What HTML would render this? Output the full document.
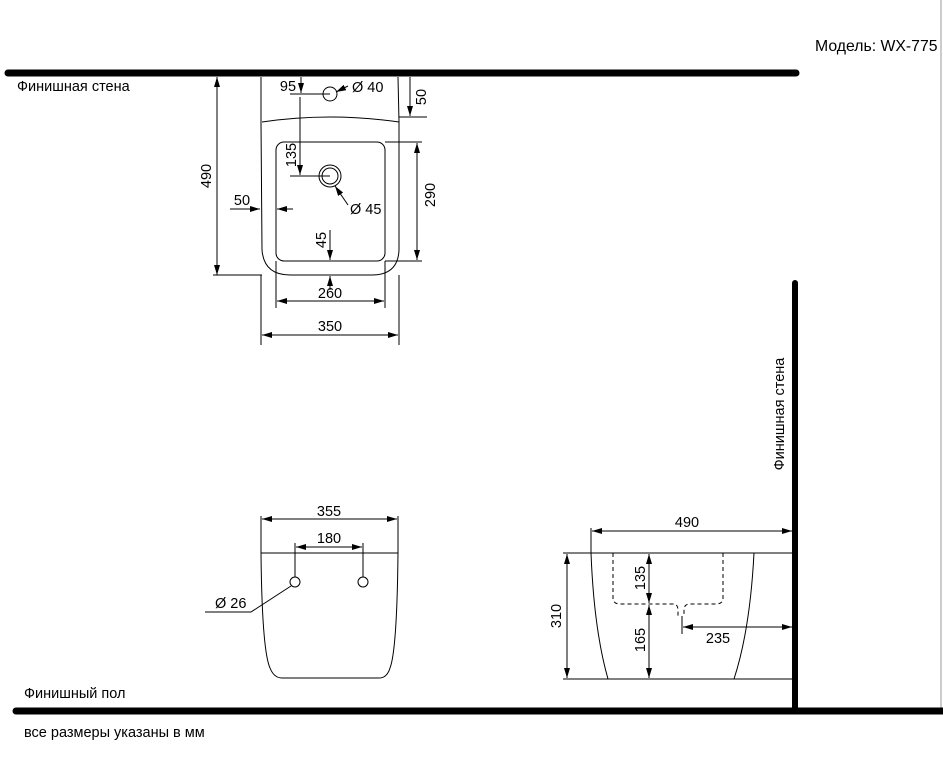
<!DOCTYPE html>
<html><head><meta charset="utf-8"><style>
html,body{margin:0;padding:0;background:#fff;}
svg{display:block;}
text{font-family:"Liberation Sans",sans-serif;font-size:14.5px;fill:#000;}
</style></head><body>
<svg width="943" height="777" viewBox="0 0 943 777" xmlns="http://www.w3.org/2000/svg">
<defs>
<marker id="a" viewBox="0 0 10 6" refX="10" refY="3" markerWidth="10" markerHeight="6" orient="auto-start-reverse" markerUnits="userSpaceOnUse"><path d="M0,0 L10,3 L0,6 z" fill="#000"/></marker>
</defs>
<line x1="941" y1="0" x2="941" y2="711" stroke="#999" stroke-width="1"/>
<line x1="8" y1="73" x2="796" y2="73" stroke="#000" stroke-width="7" stroke-linecap="round"/>
<line x1="795" y1="283" x2="795" y2="711" stroke="#000" stroke-width="6" stroke-linecap="round"/>
<line x1="16" y1="711" x2="943" y2="711" stroke="#000" stroke-width="7" stroke-linecap="round"/>
<text x="17" y="91">Финишная стена</text>
<text x="815" y="51" style="font-size:15.8px">Модель: WX-775</text>
<text x="24" y="698">Финишный пол</text>
<text x="24" y="737">все размеры указаны в мм</text>
<text transform="translate(784,414) rotate(-90)" text-anchor="middle">Финишная стена</text>

<g fill="none" stroke="#000" stroke-width="1">
<path d="M261,77 L261,122 L262,250 Q264,275 290,275 L372,275 Q398,275 399,250 L399,122 L398,77"/>
<path d="M262,122 Q330,112 399,122"/>
<rect x="276" y="142" width="109" height="119" rx="8"/>
<circle cx="330" cy="94" r="7"/>
<circle cx="330" cy="176" r="11"/>
<circle cx="330" cy="176" r="8"/>
<line x1="213" y1="275" x2="262" y2="275"/>
<line x1="217" y1="77" x2="217" y2="275" marker-start="url(#a)" marker-end="url(#a)"/>
<line x1="301" y1="77" x2="301" y2="93" marker-end="url(#a)"/>
<line x1="290" y1="94" x2="330" y2="94"/>
<line x1="348" y1="86" x2="336" y2="92" marker-end="url(#a)"/>
<line x1="410" y1="77" x2="410" y2="116" marker-end="url(#a)"/>
<line x1="399" y1="117" x2="427" y2="117"/>
<line x1="300" y1="97" x2="300" y2="175" marker-end="url(#a)"/>
<line x1="290" y1="176" x2="330" y2="176"/>
<line x1="348" y1="205" x2="335" y2="186" marker-end="url(#a)"/>
<line x1="230" y1="209" x2="260" y2="209" marker-end="url(#a)"/>
<line x1="293" y1="209" x2="277" y2="209" marker-end="url(#a)"/>
<line x1="385" y1="142" x2="422" y2="142"/>
<line x1="385" y1="261" x2="422" y2="261"/>
<line x1="417" y1="143" x2="417" y2="260" marker-start="url(#a)" marker-end="url(#a)"/>
<line x1="330" y1="230" x2="330" y2="260" marker-end="url(#a)"/>
<line x1="330" y1="290" x2="330" y2="276" marker-end="url(#a)"/>
<line x1="276" y1="261" x2="276" y2="308"/>
<line x1="385" y1="261" x2="385" y2="308"/>
<line x1="277" y1="301" x2="384" y2="301" marker-start="url(#a)" marker-end="url(#a)"/>
<line x1="261" y1="275" x2="261" y2="345"/>
<line x1="399" y1="275" x2="399" y2="345"/>
<line x1="262" y1="335" x2="398" y2="335" marker-start="url(#a)" marker-end="url(#a)"/>

<line x1="261" y1="516" x2="261" y2="553"/>
<line x1="398" y1="516" x2="398" y2="553"/>
<line x1="262" y1="519" x2="397" y2="519" marker-start="url(#a)" marker-end="url(#a)"/>
<line x1="261" y1="553" x2="398" y2="553"/>
<line x1="295" y1="543" x2="295" y2="577"/>
<line x1="363" y1="543" x2="363" y2="577"/>
<line x1="296" y1="547" x2="362" y2="547" marker-start="url(#a)" marker-end="url(#a)"/>
<circle cx="295" cy="582" r="5"/>
<circle cx="363" cy="582" r="5"/>
<path d="M291,586 L251,612 L205,612"/>
<path d="M261,553 Q262,650 270,668 Q274,678 282,678 L379,678 Q387,678 390,668 Q397,650 398,553"/>

<line x1="563" y1="553" x2="793" y2="553"/>
<line x1="563" y1="679" x2="793" y2="679"/>
<line x1="591" y1="528" x2="591" y2="553"/>
<line x1="592" y1="531" x2="792" y2="531" marker-start="url(#a)" marker-end="url(#a)"/>
<path d="M591,553 Q594,630 608,679"/>
<path d="M754,553 Q750,630 734,679"/>
<path d="M613,553 L613,598 Q613,604 620,604 L673,604 Q678,604 678,610 L678,616 M723,553 L723,598 Q723,604 716,604 L690,604 Q684,604 684,610 L684,616" stroke-dasharray="4,3"/>
<line x1="567" y1="554" x2="567" y2="678" marker-start="url(#a)" marker-end="url(#a)"/>
<line x1="649" y1="554" x2="649" y2="603" marker-start="url(#a)" marker-end="url(#a)"/>
<line x1="649" y1="605" x2="649" y2="678" marker-start="url(#a)" marker-end="url(#a)"/>
<line x1="682" y1="616" x2="682" y2="634"/>
<line x1="683" y1="627" x2="792" y2="627" marker-start="url(#a)" marker-end="url(#a)"/>
</g>

<g style="font-size:15px">
<text x="207" y="176" transform="rotate(-90 207 176)" text-anchor="middle" dominant-baseline="middle">490</text>
<text x="288" y="91" text-anchor="middle">95</text>
<text x="352" y="92">Ø 40</text>
<text x="422" y="97" transform="rotate(-90 422 97)" text-anchor="middle" dominant-baseline="middle">50</text>
<text x="292" y="155" transform="rotate(-90 292 155)" text-anchor="middle" dominant-baseline="middle">135</text>
<text x="350" y="214">Ø 45</text>
<text x="242" y="205" text-anchor="middle">50</text>
<text x="431" y="195" transform="rotate(-90 431 195)" text-anchor="middle" dominant-baseline="middle">290</text>
<text x="322" y="240" transform="rotate(-90 322 240)" text-anchor="middle" dominant-baseline="middle">45</text>
<text x="330" y="298" text-anchor="middle">260</text>
<text x="330" y="331" text-anchor="middle">350</text>
<text x="329" y="516" text-anchor="middle">355</text>
<text x="329" y="543" text-anchor="middle">180</text>
<text x="215" y="608">Ø 26</text>
<text x="687" y="527" text-anchor="middle">490</text>
<text x="557" y="616" transform="rotate(-90 557 616)" text-anchor="middle" dominant-baseline="middle">310</text>
<text x="641" y="578" transform="rotate(-90 641 578)" text-anchor="middle" dominant-baseline="middle">135</text>
<text x="641" y="640" transform="rotate(-90 641 640)" text-anchor="middle" dominant-baseline="middle">165</text>
<text x="718" y="643" text-anchor="middle">235</text>
</g>
</svg>
</body></html>
